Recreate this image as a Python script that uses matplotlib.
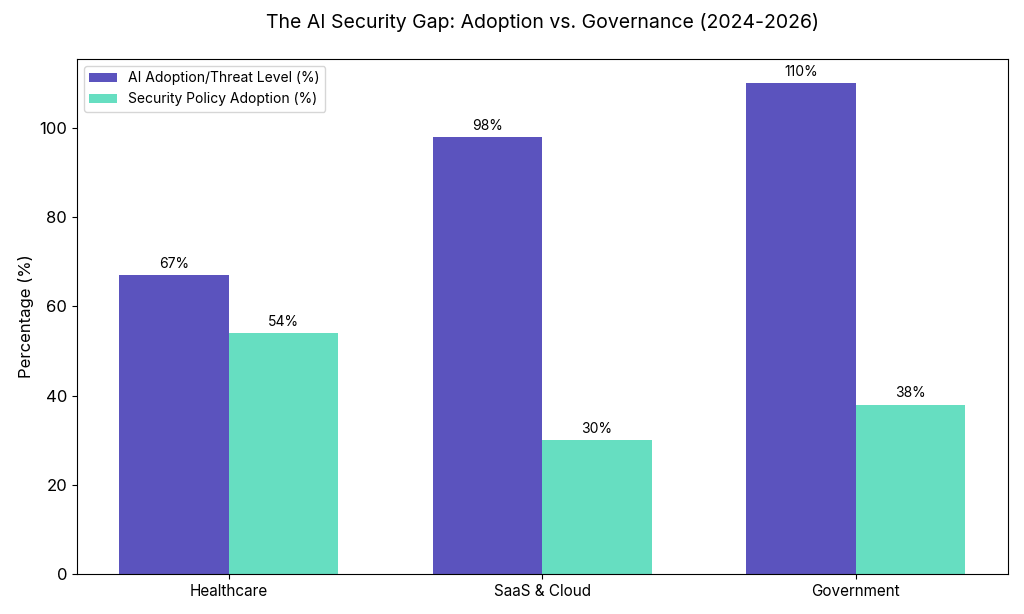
import matplotlib
matplotlib.use("Agg")
import matplotlib.pyplot as plt
import numpy as np

plt.rcParams['font.family'] = ['Inter', 'DejaVu Sans']

categories = ["Healthcare", "SaaS & Cloud", "Government"]
adoption = [67, 98, 110]
policy = [54, 30, 38]
series_labels = ["AI Adoption/Threat Level (%)", "Security Policy Adoption (%)"]

fig, ax = plt.subplots(figsize=(10.24, 6.14), dpi=100)
x = np.arange(len(categories))
w = 0.35
b1 = ax.bar(x - w/2, adoption, w, color="#5B53BE", label=series_labels[0])
b2 = ax.bar(x + w/2, policy, w, color="#66DEC1", label=series_labels[1])
for bars in (b1, b2):
    for r in bars:
        ax.annotate(f"{int(r.get_height())}%", (r.get_x() + r.get_width()/2, r.get_height()),
                    xytext=(0, 3), textcoords="offset points", ha="center", va="bottom", fontsize=10)
ax.set_xticks(x)
ax.set_xticklabels(categories, fontsize=11)
ax.tick_params(axis='y', labelsize=12)
ax.set_ylabel("Percentage (%)", fontsize=12)
ax.set_title("The AI Security Gap: Adoption vs. Governance (2024-2026)", fontsize=14, pad=22)
ax.set_ylim(0, 115.5)
ax.legend(loc="upper left", fontsize=10)
fig.subplots_adjust(left=0.075, right=0.984, top=0.904, bottom=0.065)
fig.savefig("out.png", dpi=100)
